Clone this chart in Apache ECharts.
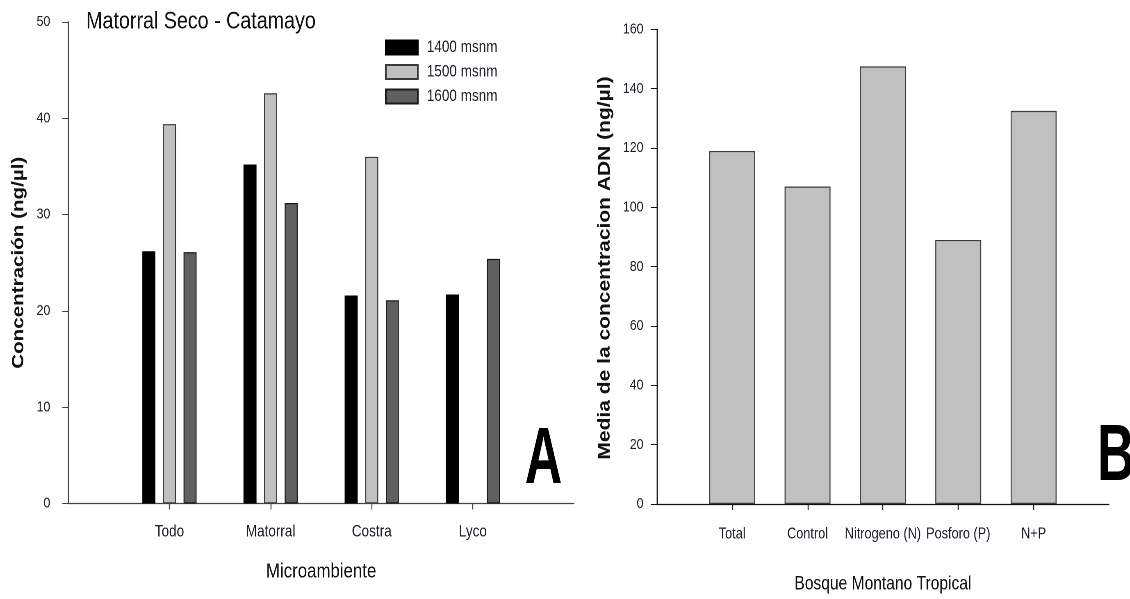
<!DOCTYPE html>
<html>
<head>
<meta charset="utf-8">
<script src="https://cdn.jsdelivr.net/npm/echarts@6/dist/echarts.min.js"></script>
<style>
  html, body { margin: 0; padding: 0; background: #fff; overflow: hidden; }
  #wrap { width: 1130px; height: 599px; overflow: hidden; position: relative; }
  /* the reference figure is horizontally compressed; reproduce that by drawing wider and squeezing */
  #chart { width: 1378px; height: 599px; transform: scaleX(0.82); transform-origin: 0 0; position: absolute; left: 0; top: 0; }
</style>
</head>
<body>
<div id="wrap"><div id="chart"></div></div>
<script>
// ---- Data ----
const leftCategories = ['Todo', 'Matorral', 'Costra', 'Lyco'];
const s1400 = [26.2, 35.2, 21.6, 21.7];
const s1500 = [39.4, 42.6, 36.0, null];
const s1600 = [26.1, 31.2, 21.1, 25.4];
const leftSeriesNames = ['1400 msnm', '1500 msnm', '1600 msnm'];
const leftYTicks = [0, 10, 20, 30, 40, 50];

const rightCategories = ['Total', 'Control', 'Nitrogeno (N)', 'Posforo (P)', 'N+P'];
const rightValues = [119, 107, 147.5, 89, 132.5];
const rightYTicks = [0, 20, 40, 60, 80, 100, 120, 140, 160];

// ---- helpers: one empty slot at each end so the axis runs past the bars ----
const padCats = c => [''].concat(c, ['']);
const padVals = v => [null].concat(v, [null]);

const SANS = '"Liberation Sans", Arial, sans-serif';
const TXT = '#1e1e28';

const chart = echarts.init(document.getElementById('chart'), null, { renderer: 'canvas', devicePixelRatio: 2 });

function catAxis(gridIndex, cats, name, nameGap, lineColor, labelMargin, labelSize, nameSize) {
  return {
    type: 'category',
    gridIndex: gridIndex,
    data: padCats(cats),
    boundaryGap: false,
    axisLine: { show: true, lineStyle: { color: lineColor, width: 1.2 } },
    axisTick: {
      show: true, length: 6, lineStyle: { color: lineColor, width: 1.2 },
      interval: function (i, v) { return v !== ''; }
    },
    axisLabel: { interval: 0, margin: labelMargin, color: TXT, fontFamily: SANS, fontSize: labelSize },
    splitLine: { show: false },
    name: name,
    nameLocation: 'middle',
    nameGap: nameGap,
    nameTextStyle: { color: '#111', fontFamily: SANS, fontSize: nameSize }
  };
}

function valAxis(gridIndex, ticks, name, nameGap, lineColor, labelMargin) {
  return {
    type: 'value',
    gridIndex: gridIndex,
    min: ticks[0],
    max: ticks[ticks.length - 1],
    interval: ticks[1] - ticks[0],
    axisLine: { show: true, lineStyle: { color: lineColor, width: 1.4 } },
    axisTick: { show: true, length: 7.3, lineStyle: { color: lineColor } },
    axisLabel: { margin: labelMargin, color: TXT, fontFamily: SANS, fontSize: 15 },
    splitLine: { show: false },
    name: name,
    nameLocation: 'middle',
    nameGap: nameGap,
    nameTextStyle: { color: '#111', fontFamily: SANS, fontSize: 20.6, fontWeight: 'bold' }
  };
}

const option = {
  backgroundColor: '#ffffff',
  animation: false,
  title: {
    text: 'Matorral Seco - Catamayo',
    left: 100, top: 5,
    textStyle: { color: '#111', fontFamily: SANS, fontSize: 24, fontWeight: 'normal' }
  },
  legend: {
    data: leftSeriesNames,
    orient: 'vertical',
    left: 469.5, top: 39,
    padding: 0,
    itemWidth: 39, itemHeight: 14,
    itemGap: 7.5,
    icon: 'rect',
    textStyle: { color: TXT, fontFamily: SANS, fontSize: 16.5, lineHeight: 16, padding: [0, 0, 0, 6] }
  },
  grid: [
    { left: 83.3, right: 678, top: 22, bottom: 95.5, containLabel: false },
    { left: 801, right: 25.6, top: 29.3, bottom: 91.7, containLabel: false }
  ],
  xAxis: [
    catAxis(0, leftCategories, 'Microambiente', 58, '#444', 20, 16.5, 20.5),
    catAxis(1, rightCategories, 'Bosque Montano Tropical', 71, '#111', 22, 15.5, 19)
  ],
  yAxis: [
    valAxis(0, leftYTicks, 'Concentración (ng/µl)', 50, '#444', 22),
    valAxis(1, rightYTicks, '', 40, '#111', 16.3)
  ],
  series: [
    {
      name: leftSeriesNames[0], type: 'bar', xAxisIndex: 0, yAxisIndex: 0,
      data: padVals(s1400), barWidth: 15.9, barGap: '58%',
      itemStyle: { color: '#000000', borderColor: '#000000', borderWidth: 1 }
    },
    {
      name: leftSeriesNames[1], type: 'bar', xAxisIndex: 0, yAxisIndex: 0,
      data: padVals(s1500), barWidth: 15.9, barGap: '58%',
      itemStyle: { color: '#c0c0c0', borderColor: '#3a3a3a', borderWidth: 1.2 }
    },
    {
      name: leftSeriesNames[2], type: 'bar', xAxisIndex: 0, yAxisIndex: 0,
      data: padVals(s1600), barWidth: 15.9, barGap: '58%',
      itemStyle: { color: '#606060', borderColor: '#1a1a1a', borderWidth: 1.2 }
    },
    {
      name: 'Media ADN', type: 'bar', xAxisIndex: 1, yAxisIndex: 1,
      data: padVals(rightValues), barWidth: 56,
      itemStyle: { color: '#c0c0c0', borderColor: '#3c3c3c', borderWidth: 1.2 }
    }
  ],
  graphic: {
    elements: [
      {
        type: 'text', x: 737.8, y: 268, rotation: Math.PI / 2,
        style: {
          text: 'Media de la concentracion ADN (ng/µl)',
          font: 'bold 21px "Liberation Sans", Arial, sans-serif',
          fill: '#111', align: 'center', verticalAlign: 'middle'
        }
      },
      {
        type: 'text', x: 640, y: 421, scaleX: 0.79,
        style: { text: 'A', font: 'bold 80px "Liberation Sans", Arial, sans-serif', fill: '#000' }
      },
      {
        type: 'text', x: 1338, y: 418, scaleX: 0.79,
        style: { text: 'B', font: 'bold 80px "Liberation Sans", Arial, sans-serif', fill: '#000' }
      }
    ]
  }
};

chart.setOption(option);
</script>
</body>
</html>
